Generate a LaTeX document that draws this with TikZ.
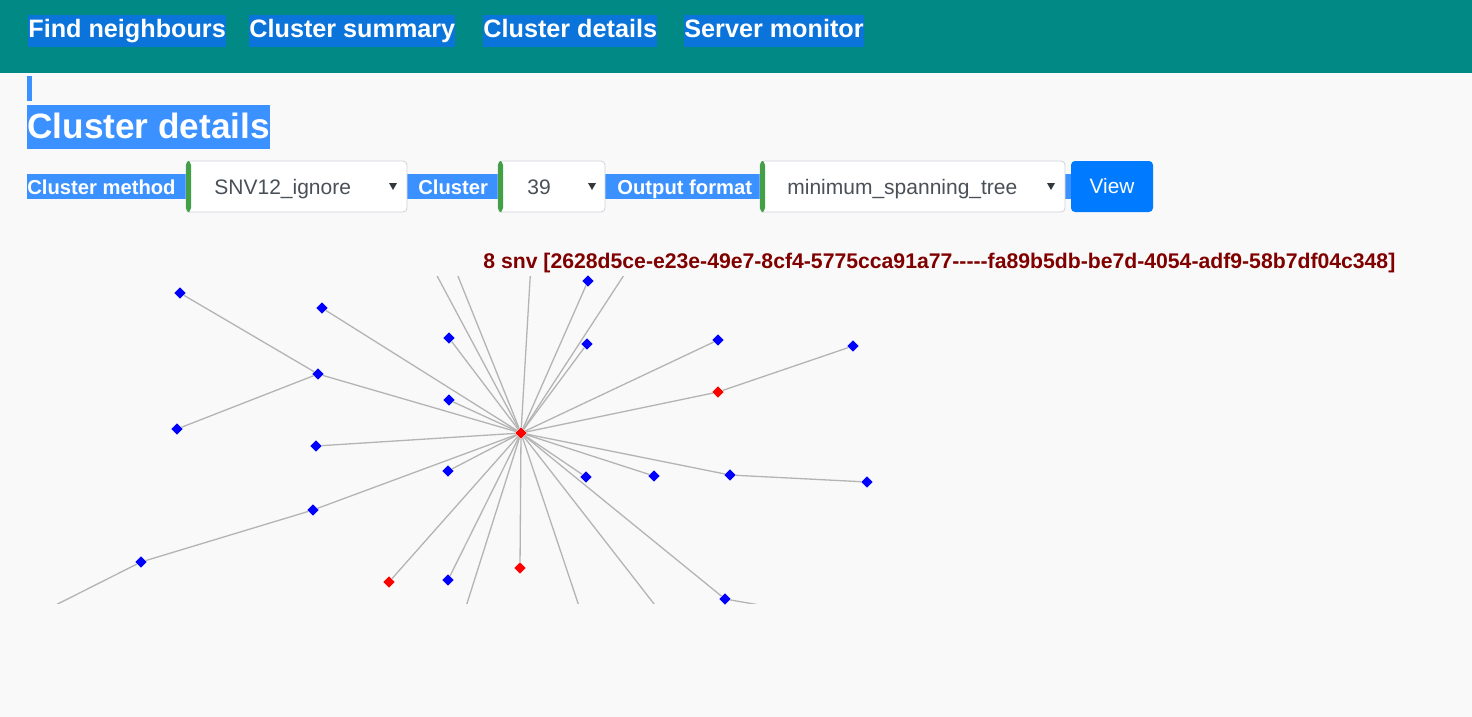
\documentclass[tikz,border=0pt]{standalone}
\usepackage{fontspec}
\setmainfont{Liberation Sans}
\usepackage{tikz}
\usetikzlibrary{positioning,shapes.geometric}

\definecolor{barteal}{HTML}{008985}
\definecolor{navsel}{HTML}{0A74DA}
\definecolor{hlblue}{HTML}{3A91FF}
\definecolor{pagebg}{HTML}{F9F9F9}
\definecolor{edgegray}{HTML}{B4B4B4}
\definecolor{selgreen}{HTML}{43A047}
\definecolor{boxgray}{HTML}{CED4DA}
\definecolor{seltext}{HTML}{495057}
\definecolor{btnblue}{HTML}{007BFF}
\definecolor{titlered}{HTML}{800000}

\tikzset{
	navlink/.style={anchor=west, fill=navsel, text=white, inner xsep=0pt, inner ysep=2pt, text height=9.3pt, text depth=2.7pt, font=\bfseries\fontsize{12.6}{14}\selectfont},
	formlabel/.style={anchor=base west, text=white, inner sep=0pt, font=\bfseries\fontsize{10.1}{12}\selectfont},
	seltxt/.style={anchor=base west, text=seltext, inner sep=0pt, font=\fontsize{10.5}{12}\selectfont},
	bluenode/.style={diamond, fill=blue, inner sep=0pt, minimum size=5.8pt},
	rednode/.style={diamond, fill=red, inner sep=0pt, minimum size=5.8pt},
	link/.style={draw=edgegray, line width=0.65pt}
}

\begin{document}
\begin{tikzpicture}[x=0.5pt, y=-0.5pt]
				\useasboundingbox (0,0) rectangle (1472,717);
				\fill[pagebg] (0,0) rectangle (1472,717);
				%%%header
				\fill[barteal] (0,0) rectangle (1472,73);
				\node[navlink] at (28,31) (nav1){Find neighbours};
				\node[navlink] at (249,31) (nav2){Cluster summary};
				\node[navlink] at (483,31) (nav3){Cluster details};
				\node[navlink] at (684,31) (nav4){Server monitor};
				%%%title
				\fill[hlblue] (27,76) rectangle (32,101);
				\node[anchor=west, fill=hlblue, text=white, inner xsep=0pt, inner ysep=1.5pt, text height=15.5pt, text depth=3.5pt, font=\bfseries\fontsize{17.6}{22}\selectfont] at (27,127) (head){Cluster details\hspace{5pt}};
				%%%form
				\fill[hlblue] (27,174) rectangle (1071,199);
				\node[formlabel] at (27,194) (lab1){Cluster method};
				\node[formlabel] at (418,194) (lab2){Cluster};
				\node[formlabel] at (617,194) (lab3){Output format};
				%select 1
				\draw[boxgray, fill=white, rounded corners=2pt] (186,161) rectangle (407,212);
				\fill[selgreen, rounded corners=2pt] (186,161) rectangle (191,212);
				\node[seltxt] at (214,194) (sel1){SNV12\_ignore};
				\fill[seltext!70!black] (389,183) -- (397,183) -- (393,190) -- cycle;
				%select 2
				\draw[boxgray, fill=white, rounded corners=2pt] (498,161) rectangle (605,212);
				\fill[selgreen, rounded corners=2pt] (498,161) rectangle (503,212);
				\node[seltxt] at (527,194) (sel2){39};
				\fill[seltext!70!black] (588,183) -- (596,183) -- (592,190) -- cycle;
				%select 3
				\draw[boxgray, fill=white, rounded corners=2pt] (760,161) rectangle (1065,212);
				\fill[selgreen, rounded corners=2pt] (760,161) rectangle (765,212);
				\node[seltxt] at (787,194) (sel3){minimum\_spanning\_tree};
				\fill[seltext!70!black] (1047,183) -- (1055,183) -- (1051,190) -- cycle;
				%button
				\fill[btnblue, rounded corners=2pt] (1071,161) rectangle (1153,212);
				\node[anchor=base, inner sep=0pt, text=white, font=\fontsize{10.4}{12}\selectfont] at (1112,193) (view){View};
				%%%graph title
				\node[anchor=base west, inner sep=0pt, text=titlered, font=\bfseries\fontsize{10.6}{12}\selectfont] at (483,268) (gtitle){8 snv [2628d5ce-e23e-49e7-8cf4-5775cca91a77-{}-{}-{}-{}-fa89b5db-be7d-4054-adf9-58b7df04c348]};
				%%%nodes
				\node[rednode] at (521,433) (C){};
				%left side
				\node[bluenode] at (180,293) (B1){};
				\node[bluenode] at (322,308) (B2){};
				\node[bluenode] at (318,374) (B3){};
				\node[bluenode] at (177,429) (B4){};
				\node[bluenode] at (316,446) (B5){};
				\node[bluenode] at (313,510) (B6){};
				\node[bluenode] at (141,562) (B7){};
				\node[bluenode] at (449,338) (B8){};
				\node[bluenode] at (449,400) (B9){};
				\node[bluenode] at (448,471) (B10){};
				\node[bluenode] at (448,580) (B11){};
				\node[rednode] at (389,582) (R2){};
				\node[rednode] at (520,568) (R3){};
				%right side
				\node[bluenode] at (588,281) (B12){};
				\node[bluenode] at (587,344) (B13){};
				\node[bluenode] at (718,340) (B14){};
				\node[bluenode] at (853,346) (B15){};
				\node[rednode] at (718,392) (R1){};
				\node[bluenode] at (586,477) (B16){};
				\node[bluenode] at (654,476) (B17){};
				\node[bluenode] at (730,475) (B18){};
				\node[bluenode] at (867,482) (B19){};
				\node[bluenode] at (725,599) (B20){};
				%outside the view
				\coordinate (O1) at (412,229);
				\coordinate (O2) at (439,229);
				\coordinate (O3) at (533,229);
				\coordinate (O4) at (654,229);
				\coordinate (O5) at (451,654);
				\coordinate (O6) at (595,654);
				\coordinate (O7) at (693,654);
				\coordinate (O8) at (800,612);
				\coordinate (O9) at (20,623);
				%%%links
				\begin{scope}
				\clip (0,276) rectangle (1000,603);
				%left branch
				\draw[link] (C) -- (B2);
				\draw[link] (C) -- (B3);
				\draw[link] (B3) -- (B1);
				\draw[link] (B3) -- (B4);
				\draw[link] (C) -- (B5);
				\draw[link] (C) -- (B6);
				\draw[link] (B6) -- (B7);
				\draw[link] (B7) -- (O9);
				\draw[link] (C) -- (B8);
				\draw[link] (C) -- (B9);
				\draw[link] (C) -- (B10);
				\draw[link] (C) -- (B11);
				\draw[link] (C) -- (R2);
				\draw[link] (C) -- (R3);
				%right branch
				\draw[link] (C) -- (B12);
				\draw[link] (C) -- (B13);
				\draw[link] (C) -- (B14);
				\draw[link] (C) -- (R1);
				\draw[link] (R1) -- (B15);
				\draw[link] (C) -- (B16);
				\draw[link] (C) -- (B17);
				\draw[link] (C) -- (B18);
				\draw[link] (B18) -- (B19);
				\draw[link] (C) -- (B20);
				\draw[link] (B20) -- (O8);
				%cut off
				\draw[link] (C) -- (O1);
				\draw[link] (C) -- (O2);
				\draw[link] (C) -- (O3);
				\draw[link] (C) -- (O4);
				\draw[link] (C) -- (O5);
				\draw[link] (C) -- (O6);
				\draw[link] (C) -- (O7);
				\end{scope}
			\end{tikzpicture}
\end{document}
